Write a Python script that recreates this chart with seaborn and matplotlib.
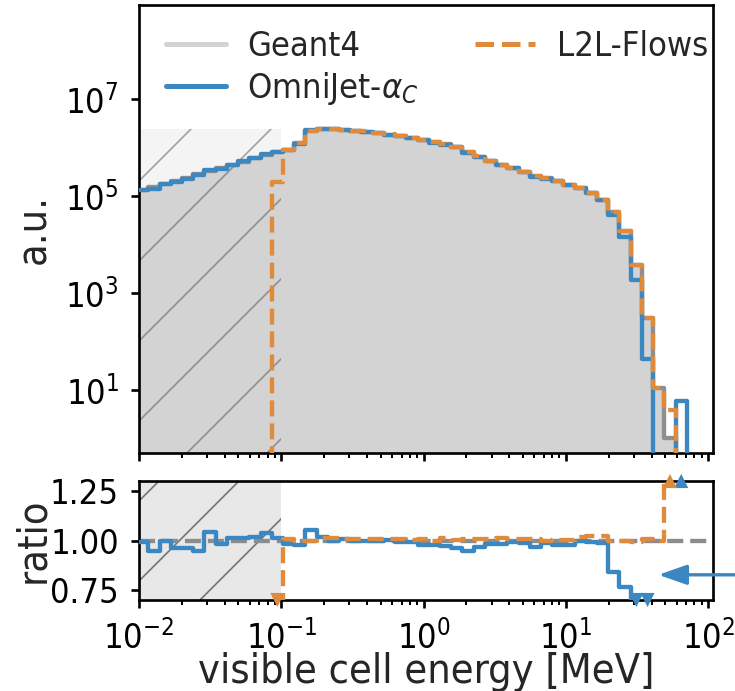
import numpy as np
import pandas as pd
import matplotlib
matplotlib.use("Agg")
import matplotlib.pyplot as plt
import seaborn as sns
from matplotlib import font_manager
from matplotlib.lines import Line2D
from matplotlib.ticker import NullLocator, FixedLocator

# ---- binning: equal-width bins in log10(E / MeV) --------------------------
log_lo, log_hi, n_bins = -2.013, 1.928, 50

# ---- histogram contents (a.u.), one value per bin -------------------------
geant4 = [133000, 151000, 177000, 204000, 238000, 284000, 328000, 373000, 436000, 510000,
          599000, 700000, 796000, 888000, 1220000, 2220000, 2370000, 2360000, 2300000, 2220000,
          2120000, 1960000, 1840000, 1730000, 1590000, 1430000, 1280000, 1160000, 1040000, 796000,
          646000, 535000, 436000, 373000, 317000, 258000, 232000, 204000, 169000, 144000,
          114000, 82700, 47400, 19000, 3780, 305, 11, 1.0, 0, 0]

omnijet = [131700, 142700, 177000, 196200, 229000, 268400, 342800, 366700, 441200, 517700,
           611000, 725900, 805600, 872900, 1193000, 2338000, 2417000, 2360000, 2312000, 2220000,
           2120000, 1960000, 1849000, 1721000, 1574000, 1399000, 1248000, 1125000, 1000500, 752200,
           624700, 525900, 428600, 369300, 312900, 249500, 229000, 199500, 165300, 144000,
           112900, 81460, 39820, 14570, 1852, 44, 0, 0, 6, 0]

l2l = [0, 0, 0, 0, 0, 0, 0, 0, 0, 0,
       0, 0, 197000, 896900, 1220000, 2220000, 2394000, 2384000, 2312000, 2242000,
       2141000, 1970000, 1858000, 1747000, 1598000, 1444000, 1280000, 1172000, 1045000, 804000,
       652500, 537700, 440400, 375600, 319500, 259800, 232000, 205000, 169800, 146400,
       116300, 84600, 47400, 19000, 3750, 307, 11, 3.9, 0, 0]

series_labels = ["Geant4", r"OmniJet-$\alpha_C$", "L2L-Flows"]
x_label = "visible cell energy [MeV]"
e_cut = 0.1            # cells below this energy are not simulated by L2L-Flows
ratio_range = (0.7, 1.3)

# ---- colours ---------------------------------------------------------------
c_fill = "#d3d3d3"
c_g4 = "#8f8f8f"
c_blue = "#3a87c1"
c_orange = "#e08a3c"

sns.set_style("ticks")

# narrow lettering: use the condensed DejaVu face when it is installed
has_condensed = any("condensed" in f.fname.lower() and "dejavusans" in f.fname.lower()
                    for f in font_manager.fontManager.ttflist)
if has_condensed:
    small_fs, xlab_fs, ylab_fs = 10.3, 12.4, 12.4
    plt.rcParams["font.stretch"] = "condensed"
else:
    small_fs, xlab_fs, ylab_fs = 9.2, 11.0, 12.4

plt.rcParams.update({
    "font.family": ["DejaVu Sans"],
    "font.size": small_fs,
    "xtick.labelsize": small_fs,
    "ytick.labelsize": small_fs,
    "legend.fontsize": small_fs,
    "axes.linewidth": 0.8,
    "axes.edgecolor": "black",
    "xtick.color": "black",
    "ytick.color": "black",
    "xtick.major.size": 2.5,
    "ytick.major.size": 2.5,
    "xtick.minor.size": 1.5,
    "ytick.minor.size": 1.5,
    "xtick.major.width": 0.8,
    "ytick.major.width": 0.8,
    "xtick.minor.width": 0.6,
    "hatch.linewidth": 0.5,
})

edges = np.logspace(log_lo, log_hi, n_bins + 1)
log_edges = list(np.log10(edges))
centers = np.sqrt(edges[:-1] * edges[1:])

g4 = np.asarray(geant4, float)
models = {"omnijet": np.asarray(omnijet, float), "l2l": np.asarray(l2l, float)}

fig = plt.figure(figsize=(735 / 240, 691 / 240), dpi=240)
ax = fig.add_axes([0.1891, 0.3444, 0.781, 0.6484])
axr = fig.add_axes([0.1891, 0.1317, 0.781, 0.1722], sharex=ax)

for a in (ax, axr):
    a.set_xscale("log")
ax.set_yscale("log", nonpositive="clip")

# ---- main panel ------------------------------------------------------------
y_lo, y_hi = 0.5, 8.7e8
peak = max(g4.max(), models["omnijet"].max(), models["l2l"].max())

# light band marking the region below the L2L-Flows threshold (behind the fill)
ax.fill_between([1e-2, e_cut], [y_lo, y_lo], [peak, peak],
                facecolor="#f4f4f4", edgecolor="none", linewidth=0, zorder=0.5)

sns.histplot(x=centers, weights=g4, bins=log_edges, element="step", fill=True,
             color=c_fill, alpha=1, linewidth=0, ax=ax, zorder=1)

# hatching of the same band, drawn over the fill
ax.fill_between([1e-2, e_cut], [y_lo, y_lo], [peak, peak],
                facecolor="none", edgecolor=(0.3, 0.3, 0.3, 0.5),
                hatch="/", linewidth=0, zorder=1.5)

sns.histplot(x=centers, weights=g4, bins=log_edges, element="step", fill=False,
             color=c_g4, linewidth=1.3, ax=ax, zorder=2)
sns.histplot(x=centers, weights=models["omnijet"], bins=log_edges, element="step",
             fill=False, color=c_blue, linewidth=1.3, ax=ax, zorder=3)
sns.histplot(x=centers, weights=models["l2l"], bins=log_edges, element="step",
             fill=False, color=c_orange, linewidth=1.3, linestyle="--", ax=ax, zorder=4)

ax.set_ylim(y_lo, y_hi)
ax.set_xlim(1e-2, 108)
ax.yaxis.set_major_locator(FixedLocator([1e1, 1e3, 1e5, 1e7]))
ax.yaxis.set_minor_locator(NullLocator())
ax.tick_params(axis="x", which="both", labelbottom=False)
ax.set_ylabel("a.u.", fontsize=ylab_fs)
ax.set_xlabel("")

handles = [Line2D([], [], color=c_fill, lw=1.5),
           Line2D([], [], color=c_blue, lw=1.5),
           Line2D([], [], color=c_orange, lw=1.5, ls="--")]
ax.legend(handles, series_labels, ncol=2, loc="upper left",
          bbox_to_anchor=(0.0165, 0.983), frameon=False, borderpad=0,
          columnspacing=1.65, handlelength=1.75, handletextpad=0.62,
          labelspacing=0.2)

# ---- ratio panel -----------------------------------------------------------
axr.axvspan(1e-2, e_cut, facecolor=(0.5, 0.5, 0.5, 0.18),
            edgecolor=(0.3, 0.3, 0.3, 0.75), hatch="/", linewidth=0, zorder=0.5)
axr.axhline(1.0, color="#8c8c8c", ls="--", lw=1.3, zorder=2)

with np.errstate(divide="ignore", invalid="ignore"):
    ratios = {k: np.where(v > 0, v / g4, np.nan) for k, v in models.items()}

styles = {"omnijet": dict(color=c_blue, linestyle="-", zorder=3),
          "l2l": dict(color=c_orange, linestyle="--", zorder=4)}
for key, r in ratios.items():
    line_vals = np.where(np.isfinite(r), r, np.nan)
    df = pd.DataFrame({"E": edges, "ratio": np.append(line_vals, line_vals[-1])})
    sns.lineplot(data=df, x="E", y="ratio", estimator=None, drawstyle="steps-post",
                 linewidth=1.3, ax=axr, **styles[key])
    above = r > ratio_range[1]
    below = (r > 0) & (r < ratio_range[0])
    marks = pd.DataFrame({
        "E": np.concatenate([centers[above], centers[below]]),
        "ratio": np.concatenate([np.full(above.sum(), ratio_range[1]),
                                 np.full(below.sum(), ratio_range[0])]),
        "dir": ["up"] * int(above.sum()) + ["down"] * int(below.sum()),
    })
    sns.scatterplot(data=marks, x="E", y="ratio", style="dir",
                    markers={"up": "^", "down": "v"}, color=styles[key]["color"],
                    s=18, linewidth=0, legend=False, clip_on=False, zorder=6, ax=axr)

axr.set_ylim(*ratio_range)
axr.set_xlim(1e-2, 108)
axr.set_yticks([0.75, 1.0, 1.25])
axr.set_yticklabels(["0.75", "1.00", "1.25"])
axr.set_ylabel("ratio", fontsize=ylab_fs)
axr.set_xlabel(x_label, fontsize=xlab_fs, labelpad=-1)

ax.yaxis.set_label_coords(-0.15, 0.5)
axr.yaxis.set_label_coords(-0.15, 0.5)

axr.annotate("", xy=(44.6, 0.827), xytext=(260, 0.827), xycoords="data",
             textcoords="data", annotation_clip=False,
             arrowprops=dict(arrowstyle="-|>,head_length=0.6,head_width=0.21",
                             color=c_blue, lw=1.0, mutation_scale=12,
                             shrinkA=0, shrinkB=0))

fig.savefig("out.png", dpi=240)
